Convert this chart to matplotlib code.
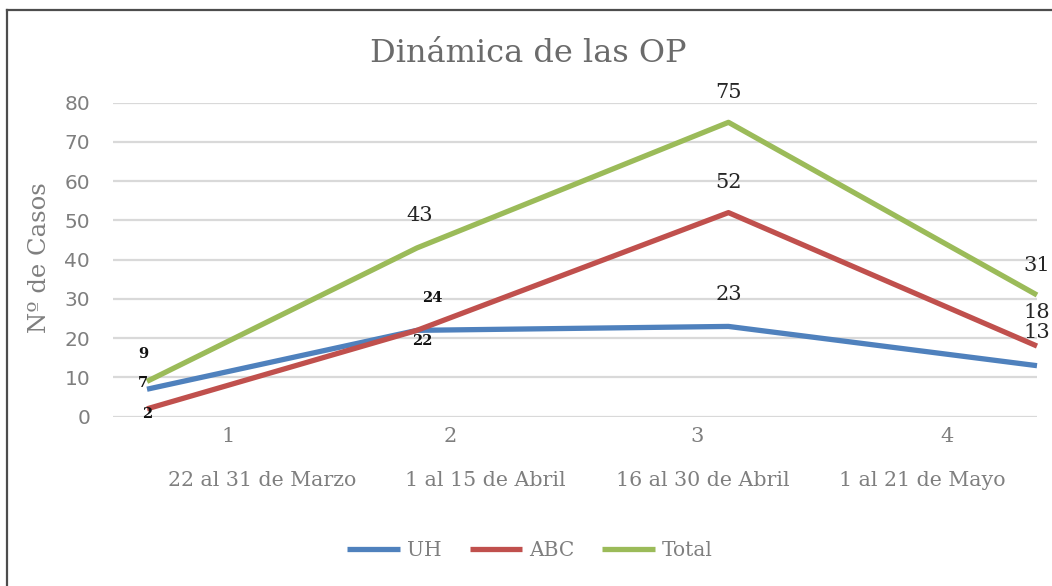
import matplotlib
matplotlib.use("Agg")
import matplotlib.pyplot as plt
from matplotlib.lines import Line2D

# ---- data ----
series_names = ["UH", "ABC", "Total"]
uh_values = [7, 22, 23, 13]
abc_values = [2, 22, 52, 18]
total_values = [9, 43, 75, 31]
uh_labels = ["7", "22", "23", "13"]
abc_labels = ["2", "24", "52", "18"]
total_labels = ["9", "43", "75", "31"]
x_pos = [1, 1.91, 2.96, 4]
cat_numbers = ["1", "2", "3", "4"]
cat_dates = ["22 al 31 de Marzo", "1 al 15 de Abril", "16 al 30 de Abril", "1 al 21 de Mayo"]
y_ticks = [0, 10, 20, 30, 40, 50, 60, 70, 80]

colors = {"UH": "#4F81BD", "ABC": "#C0504D", "Total": "#9BBB59"}
GREY = "#7f7f7f"
SERIF = "DejaVu Serif"

W, H = 1052, 586
fig = plt.figure(figsize=(W / 100, H / 100), dpi=100)
fig.patch.set_facecolor("white")

def fx(px):
    return px / W

def fy(py):
    return 1 - py / H

# frame (left & top edges visible)
fig.add_artist(Line2D([fx(7), fx(7)], [fy(10), -0.1], color="#4d4d4d", lw=1.6, transform=fig.transFigure))
fig.add_artist(Line2D([fx(7), 1.1], [fy(10), fy(10)], color="#4d4d4d", lw=1.6, transform=fig.transFigure))

ax_l, ax_r = 113, 1037
ax_t, ax_b = 102.7, 416.7
ax = fig.add_axes([fx(ax_l), fy(ax_b), fx(ax_r - ax_l), (ax_b - ax_t) / H])
ax.set_ylim(0, 80)
unit = (ax_r - 147) / 3.0
ax.set_xlim(1 - (147 - ax_l) / unit, 4)
for s in ax.spines.values():
    s.set_visible(False)
ax.set_yticks(y_ticks)
ax.set_yticklabels([str(t) for t in y_ticks], color=GREY, fontsize=14.5, family="DejaVu Sans")
ax.tick_params(axis="y", length=0, pad=16.5)
ax.set_xticks([])
ax.grid(axis="y", color="#d9d9d9", lw=1.6)
ax.set_axisbelow(True)

data = {"UH": (uh_values, uh_labels), "ABC": (abc_values, abc_labels), "Total": (total_values, total_labels)}
for name in series_names:
    vals, _ = data[name]
    ax.plot(x_pos, vals, color=colors[name], lw=3.8, solid_capstyle="butt", clip_on=False, label=name, zorder=3)

# data labels: offsets in pixels (dx, dy up), bold flag
label_style = {
    "Total": [(-4, 27, True), (3, 32, False), (0, 30, False), (0, 30, False)],
    "ABC": [(0, -5, True), (15, 32, True), (0, 30, False), (0, 34, False)],
    "UH": [(-4, 6, True), (5, -11, True), (0, 32, False), (0, 33, False)],
}
for name in series_names:
    vals, labs = data[name]
    for i, (xv, yv, lab) in enumerate(zip(x_pos, vals, labs)):
        dx, dy, bold = label_style[name][i]
        ax.annotate(lab, (xv, yv), xytext=(dx * 0.72, dy * 0.72), textcoords="offset points",
                    ha="center", va="center", annotation_clip=False, zorder=5,
                    fontsize=10.5 if bold else 15, fontweight="bold" if bold else "normal",
                    family=SERIF, color="#111111" if bold else "#262626")

# category labels
num_px = [228, 450, 697, 947]
date_px = [262, 485, 703, 922]
for n, px in zip(cat_numbers, num_px):
    fig.text(fx(px), fy(437), n, ha="center", va="center", fontsize=15, family=SERIF, color=GREY)
for d, px in zip(cat_dates, date_px):
    fig.text(fx(px), fy(481), d, ha="center", va="center", fontsize=14.8, family=SERIF, color=GREY)

# y label
fig.text(fx(40), fy(258), "Nº de Casos", rotation=90, ha="center", va="center",
         fontsize=17.5, family=SERIF, color=GREY)

# title
fig.text(fx(528), fy(53), "Dinámica de las OP", ha="center", va="center",
         fontsize=23, family=SERIF, color="#6b6b6b")

# legend
leg = fig.legend(loc="center", bbox_to_anchor=(fx(530), fy(551)), ncol=3, frameon=False,
                 handlelength=2.6, handletextpad=0.35, columnspacing=1.4,
                 prop={"family": SERIF, "size": 14.5})
for t in leg.get_texts():
    t.set_color(GREY)

fig.savefig("out.png", dpi=100)
